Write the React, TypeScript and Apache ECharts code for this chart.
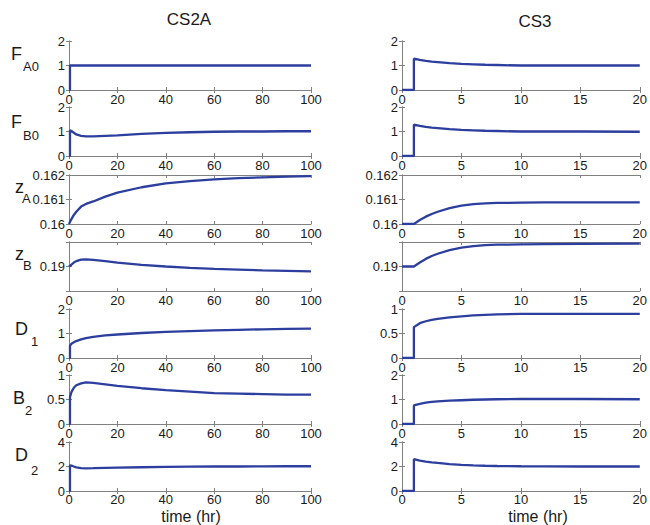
import React, { useEffect, useRef } from "react";
import * as echarts from "echarts";

// time grids
const tL = [0, 0.4, 0.4, 1, 2, 3, 5, 7, 10, 15, 20, 30, 40, 50, 60, 70, 80, 90, 100];
const tR = [0, 1, 1, 1.5, 2, 2.5, 3, 4, 5, 6, 7, 8, 10, 12, 15, 20];

// CS2A (left column)
const fa0L = [0, 0, 1, 1, 1, 1, 1, 1, 1, 1, 1, 1, 1, 1, 1, 1, 1, 1, 1];
const fb0L = [0, 0, 1.05, 1.02, 0.95, 0.88, 0.82, 0.8, 0.8, 0.82, 0.84, 0.9, 0.94, 0.97, 0.99, 1.0, 1.0, 1.01, 1.01];
const zaL = [0.16, 0.16008, 0.16008, 0.1602, 0.16037, 0.1605, 0.16071, 0.16082, 0.16092, 0.16112, 0.16128, 0.1615, 0.16166, 0.16175, 0.16182, 0.16187, 0.1619, 0.16193, 0.16195];
const zbL = [0.19, 0.19003, 0.19003, 0.19008, 0.19016, 0.19022, 0.19028, 0.19029, 0.19027, 0.19022, 0.19016, 0.19007, 0.19, 0.18994, 0.1899, 0.18987, 0.18984, 0.18982, 0.1898];
const d1L = [0, 0, 0.5, 0.58, 0.64, 0.69, 0.76, 0.81, 0.86, 0.92, 0.96, 1.02, 1.07, 1.1, 1.13, 1.15, 1.17, 1.19, 1.2];
const b2L = [0, 0, 0.55, 0.65, 0.74, 0.79, 0.83, 0.85, 0.84, 0.81, 0.78, 0.73, 0.69, 0.66, 0.63, 0.62, 0.61, 0.6, 0.6];
const d2L = [0, 0, 2.1, 2.08, 2.0, 1.93, 1.87, 1.85, 1.86, 1.88, 1.9, 1.94, 1.97, 1.99, 2.0, 2.0, 2.01, 2.02, 2.02];

// CS3 (right column)
const fa0R = [0, 0, 1.28, 1.23, 1.19, 1.16, 1.14, 1.1, 1.07, 1.05, 1.03, 1.02, 1.0, 1.0, 1.0, 1.0];
const fb0R = [0, 0, 1.28, 1.23, 1.19, 1.16, 1.14, 1.1, 1.07, 1.05, 1.03, 1.02, 1.0, 1.0, 1.0, 0.99];
const zaR = [0.16, 0.16, 0.16, 0.16016, 0.1603, 0.16041, 0.1605, 0.16065, 0.16075, 0.16081, 0.16084, 0.16086, 0.16087, 0.16088, 0.16088, 0.16088];
const zbR = [0.19, 0.19, 0.19, 0.19016, 0.19031, 0.19043, 0.19052, 0.19067, 0.19077, 0.19083, 0.19087, 0.19089, 0.1909, 0.19091, 0.19092, 0.19093];
const d1R = [0, 0, 0.63, 0.71, 0.75, 0.78, 0.8, 0.83, 0.85, 0.87, 0.88, 0.89, 0.9, 0.9, 0.9, 0.9];
const b2R = [0, 0, 0.76, 0.82, 0.87, 0.9, 0.92, 0.95, 0.97, 0.99, 1.0, 1.01, 1.02, 1.02, 1.02, 1.01];
const d2R = [0, 0, 2.6, 2.48, 2.4, 2.34, 2.29, 2.2, 2.13, 2.09, 2.06, 2.04, 2.02, 2.01, 2.0, 2.0];

const leftSeries = [fa0L, fb0L, zaL, zbL, d1L, b2L, d2L];
const rightSeries = [fa0R, fb0R, zaR, zbR, d1R, b2R, d2R];

// y-axis ranges per row
const yMinL = [0, 0, 0.16, 0.189, 0, 0, 0];
const yMaxL = [2, 2, 0.162, 0.191, 2, 1, 4];
const yIntL = [1, 1, 0.001, 0.001, 1, 0.5, 2];
const yMinR = [0, 0, 0.16, 0.189, 0, 0, 0];
const yMaxR = [2, 2, 0.162, 0.191, 1, 2, 4];
const yIntR = [1, 1, 0.001, 0.001, 0.5, 1, 2];

// row labels: main letter + subscript
const rowMain = ["F", "F", "z", "z", "D", "B", "D"];
const rowSub = ["A0", "B0", "A", "B", "1", "2", "2"];

const colTitles = ["CS2A", "CS3"];
const xLabel = "time (hr)";

const FONT = "'Liberation Sans', Arial, sans-serif";
const LINE = "#2c3e9e";
const BOX = "#808080";
const TXT = "#1a1a1a";

export default function App() {
  const ref = useRef<HTMLDivElement>(null);
  useEffect(() => {
    if (!ref.current) return;
    const chart = echarts.init(ref.current, null, { renderer: "svg" });

    const tops = [41, 107, 175, 242, 309, 375, 442];
    const H = 49;
    const cols = [
      { left: 69, width: 242, xMax: 100, xInt: 20, t: tL, series: leftSeries, yMin: yMinL, yMax: yMaxL, yInt: yIntL },
      { left: 402, width: 242, xMax: 20, xInt: 5, t: tR, series: rightSeries, yMin: yMinR, yMax: yMaxR, yInt: yIntR },
    ];

    const grids: any[] = [];
    const xAxes: any[] = [];
    const yAxes: any[] = [];
    const series: any[] = [];

    const fmt = (v: number) => String(Math.round(v * 1e6) / 1e6);

    cols.forEach((c) => {
      for (let r = 0; r < 7; r++) {
        const g = grids.length;
        grids.push({ left: c.left, top: tops[r], width: c.width, height: H, show: false });
        const axisLine = { show: true, lineStyle: { color: BOX, width: 1 } };
        const axisTick = { show: true, inside: true, length: 3, lineStyle: { color: BOX } };
        xAxes.push({
          type: "value", gridIndex: g, position: "bottom", min: 0, max: c.xMax, interval: c.xInt,
          axisLine, axisTick, splitLine: { show: false },
          axisLabel: { show: true, margin: r === 6 ? 2 : 3, fontSize: 13, color: TXT, fontFamily: FONT, formatter: fmt },
        });
        xAxes.push({
          type: "value", gridIndex: g, position: "top", min: 0, max: c.xMax, interval: c.xInt,
          axisLine, axisTick, splitLine: { show: false }, axisLabel: { show: false },
        });
        const isZB = r === 3;
        yAxes.push({
          type: "value", gridIndex: g, position: "left", min: c.yMin[r], max: c.yMax[r], interval: c.yInt[r],
          axisLine, axisTick, splitLine: { show: false },
          axisLabel: {
            show: true, margin: 4, fontSize: 13, color: TXT, fontFamily: FONT,
            formatter: (v: number) => (isZB ? (Math.abs(v - 0.19) < 1e-9 ? "0.19" : "") : fmt(v)),
          },
        });
        yAxes.push({
          type: "value", gridIndex: g, position: "right", min: c.yMin[r], max: c.yMax[r], interval: c.yInt[r],
          axisLine, axisTick, splitLine: { show: false }, axisLabel: { show: false },
        });
        const vals = c.series[r];
        series.push({
          type: "line", xAxisIndex: 2 * g, yAxisIndex: 2 * g,
          data: c.t.map((t, i) => [t, vals[i]]),
          showSymbol: false, symbol: "none",
          lineStyle: { color: LINE, width: 2.3 },
          silent: true,
        });
      }
    });

    const mainPos = [
      [11, 45], [11, 113], [15, 178], [15, 245], [15, 320], [13, 389], [15, 446],
    ];
    const subPos = [
      [23, 60], [23, 129], [22, 192], [23, 259], [31, 335], [25, 404], [31, 464],
    ];
    const graphics: any[] = [];
    for (let r = 0; r < 7; r++) {
      graphics.push({
        type: "text", x: mainPos[r][0], y: mainPos[r][1],
        style: { text: rowMain[r], fontSize: 18, fontFamily: FONT, fill: TXT },
      });
      graphics.push({
        type: "text", x: subPos[r][0], y: subPos[r][1],
        style: { text: rowSub[r], fontSize: 13, fontFamily: FONT, fill: TXT },
      });
    }
    graphics.push({
      type: "text", x: 189, y: 11,
      style: { text: colTitles[0], fontSize: 17, fontFamily: FONT, fill: TXT, align: "center" },
    });
    graphics.push({
      type: "text", x: 535, y: 13,
      style: { text: colTitles[1], fontSize: 17, fontFamily: FONT, fill: TXT, align: "center" },
    });
    graphics.push({
      type: "text", x: 191, y: 508,
      style: { text: xLabel, fontSize: 16, fontFamily: FONT, fill: TXT, align: "center" },
    });
    graphics.push({
      type: "text", x: 538, y: 508,
      style: { text: xLabel, fontSize: 16, fontFamily: FONT, fill: TXT, align: "center" },
    });

    chart.setOption({
      animation: false,
      backgroundColor: "#ffffff",
      grid: grids,
      xAxis: xAxes,
      yAxis: yAxes,
      series,
      graphic: graphics,
    });
    return () => chart.dispose();
  }, []);
  return (
    <div
      ref={ref}
      style={{ position: "absolute", left: 0, top: 0, width: 650, height: 525 }}
    />
  );
}
